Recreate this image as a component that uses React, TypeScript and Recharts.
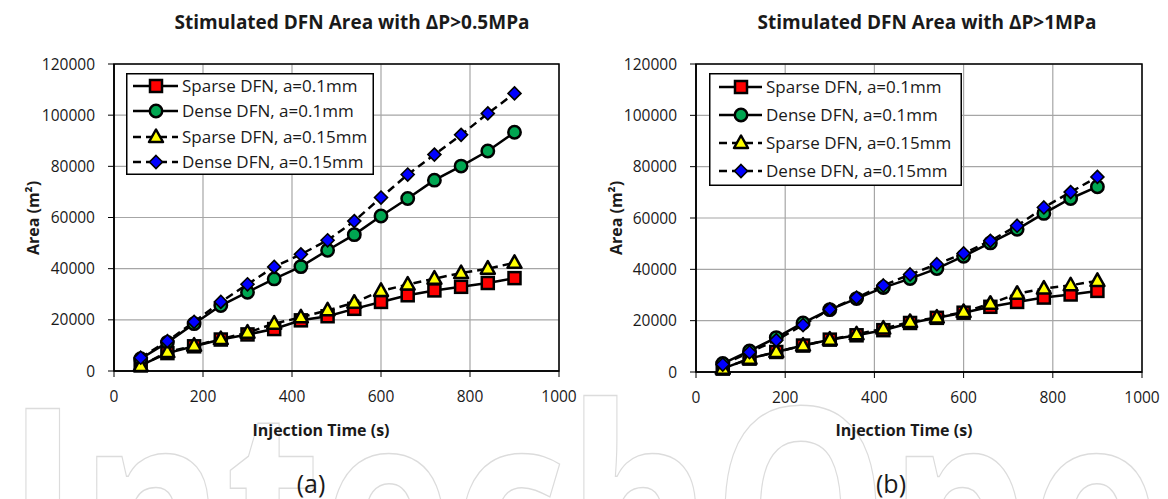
import React from 'react';
import { LineChart, Line, XAxis, YAxis, CartesianGrid, ReferenceArea, Legend } from 'recharts';

const injectionTimes = [60, 120, 180, 240, 300, 360, 420, 480, 540, 600, 660, 720, 780, 840, 900];
const xTicks = [0, 200, 400, 600, 800, 1000];
const yTicks = [0, 20000, 40000, 60000, 80000, 100000, 120000];

const seriesNames = ['Sparse DFN, a=0.1mm', 'Dense DFN, a=0.1mm', 'Sparse DFN, a=0.15mm', 'Dense DFN, a=0.15mm'];

// Panel (a): ΔP > 0.5 MPa
const sparse01A = [2200, 7000, 9650, 12300, 14300, 16400, 19800, 21400, 24300, 27000, 29600, 31500, 32900, 34400, 36300];
const dense01A = [4800, 11200, 18500, 25600, 30800, 36000, 40800, 47200, 53300, 60600, 67400, 74600, 80100, 86000, 93300];
const sparse015A = [2000, 7400, 9900, 12500, 15000, 18500, 21000, 23700, 26700, 31300, 33800, 36100, 38300, 40000, 42300];
const dense015A = [5200, 11700, 19200, 27000, 33900, 40700, 45600, 51100, 58600, 67800, 76800, 84600, 92300, 100700, 108500];

// Panel (b): ΔP > 1 MPa
const sparse01B = [1300, 5200, 7800, 10300, 12600, 14300, 16300, 19100, 21100, 23100, 25400, 27300, 29000, 30200, 31600];
const dense01B = [3300, 8200, 13400, 19100, 24300, 28600, 32900, 36400, 40300, 45100, 50300, 55600, 61800, 67600, 72200];
const sparse015B = [1300, 5200, 7800, 10300, 12600, 14700, 16900, 19500, 21200, 23400, 26600, 30500, 32500, 33800, 35500];
const dense015B = [2900, 7700, 12400, 18300, 24400, 29000, 33700, 38000, 42000, 46200, 51100, 57000, 64100, 70100, 76000];

const FONT = '"Open Sans", "DejaVu Sans", sans-serif';
const TEXT = '#1a1a1a';

const seriesStyles = [
  { key: 's01', shape: 'square', dashed: false },
  { key: 'd01', shape: 'circle', dashed: false },
  { key: 's015', shape: 'triangle', dashed: true },
  { key: 'd015', shape: 'diamond', dashed: true },
];

function buildRows(a: number[], b: number[], c: number[], d: number[]) {
  return injectionTimes.map((t, i) => ({ t, s01: a[i], d01: b[i], s015: c[i], d015: d[i] }));
}

const rowsA = buildRows(sparse01A, dense01A, sparse015A, dense015A);
const rowsB = buildRows(sparse01B, dense01B, sparse015B, dense015B);

function Marker({ cx, cy, shape }: { cx: number; cy: number; shape: string }) {
  if (cx == null || cy == null) return null;
  if (shape === 'square') {
    return <rect x={cx - 6} y={cy - 6} width={12} height={12} fill="#ff0000" stroke="#000" strokeWidth={2.5} />;
  }
  if (shape === 'circle') {
    return <circle cx={cx} cy={cy} r={6.2} fill="#00a651" stroke="#000" strokeWidth={2.5} />;
  }
  if (shape === 'triangle') {
    return (
      <polygon
        points={`${cx},${cy - 7.5} ${cx - 7},${cy + 5} ${cx + 7},${cy + 5}`}
        fill="#ffff00"
        stroke="#000"
        strokeWidth={2.5}
        strokeLinejoin="round"
      />
    );
  }
  return (
    <polygon
      points={`${cx},${cy - 6.5} ${cx + 6.5},${cy} ${cx},${cy + 6.5} ${cx - 6.5},${cy}`}
      fill="#0000ff"
      stroke="#000"
      strokeWidth={1.6}
    />
  );
}

function makeDot(shape: string) {
  return (props: any) => <Marker key={`${shape}-${props.index}`} cx={props.cx} cy={props.cy} shape={shape} />;
}

type LegendGeom = {
  width: number;
  height: number;
  rowYs: number[];
  lineX1: number;
  lineX2: number;
  markerX: number;
  textX: number;
};

function LegendBox({ g }: { g: LegendGeom }) {
  return (
    <svg width={g.width} height={g.height} style={{ display: 'block' }}>
      <rect x={0.75} y={0.75} width={g.width - 1.5} height={g.height - 1.5} fill="#fff" stroke="#000" strokeWidth={1.5} />
      {seriesStyles.map((s, i) => (
        <g key={s.key}>
          <line
            x1={g.lineX1}
            x2={g.lineX2}
            y1={g.rowYs[i]}
            y2={g.rowYs[i]}
            stroke="#000"
            strokeWidth={2.5}
            strokeDasharray={s.dashed ? '8 5' : undefined}
          />
          <Marker cx={g.markerX} cy={g.rowYs[i]} shape={s.shape} />
          <text x={g.textX} y={g.rowYs[i]} dy="0.36em" fontSize={17} fontFamily={FONT} fill={TEXT}>
            {seriesNames[i]}
          </text>
        </g>
      ))}
    </svg>
  );
}

type PanelProps = {
  rows: any[];
  left: number;
  width: number;
  margin: { top: number; right: number; left: number; bottom: number };
  legendPos: { left: number; top: number };
  legend: LegendGeom;
};

function Panel({ rows, left, width, margin, legendPos, legend }: PanelProps) {
  return (
    <div style={{ position: 'absolute', left, top: 0 }}>
      <LineChart width={width} height={420} data={rows} margin={margin}>
        <CartesianGrid stroke="#a6a6a6" strokeWidth={1.2} />
        <ReferenceArea
          x1={0}
          x2={1000}
          y1={0}
          y2={120000}
          fill="none"
          fillOpacity={0}
          stroke="#000"
          strokeWidth={1.5}
          ifOverflow="visible"
        />
        <XAxis
          dataKey="t"
          type="number"
          domain={[0, 1000]}
          ticks={xTicks}
          height={30}
          tickSize={6}
          tickMargin={14}
          axisLine={{ stroke: '#000', strokeWidth: 1.5 }}
          tickLine={{ stroke: '#000', strokeWidth: 1 }}
          tick={{ fill: TEXT, fontSize: 15.5, fontFamily: FONT }}
        />
        <YAxis
          type="number"
          domain={[0, 120000]}
          ticks={yTicks}
          width={60}
          tickSize={6}
          tickMargin={13}
          axisLine={{ stroke: '#000', strokeWidth: 1.5 }}
          tickLine={{ stroke: '#000', strokeWidth: 1 }}
          tick={{ fill: TEXT, fontSize: 15.5, fontFamily: FONT }}
        />
        <Legend
          layout="vertical"
          align="center"
          verticalAlign="middle"
          wrapperStyle={{ left: legendPos.left, top: legendPos.top, width: legend.width, height: legend.height }}
          content={() => <LegendBox g={legend} />}
        />
        {seriesStyles.map((s) => (
          <Line
            key={s.key}
            dataKey={s.key}
            type="linear"
            stroke="#000"
            strokeWidth={2.5}
            strokeDasharray={s.dashed ? '8 5' : undefined}
            dot={makeDot(s.shape)}
            activeDot={false}
            isAnimationActive={false}
          />
        ))}
      </LineChart>
    </div>
  );
}

const legendA: LegendGeom = {
  width: 248,
  height: 102,
  rowYs: [13, 38, 64, 89],
  lineX1: 7,
  lineX2: 52,
  markerX: 30,
  textX: 56,
};

const legendB: LegendGeom = {
  width: 253,
  height: 113,
  rowYs: [14, 42, 70, 98],
  lineX1: 10,
  lineX2: 53,
  markerX: 32,
  textX: 57,
};

export default function App() {
  return (
    <div style={{ position: 'absolute', left: 0, top: 0, width: 1168, height: 499, background: '#fff', overflow: 'hidden' }}>
      <svg width={1168} height={499} style={{ position: 'absolute', left: 0, top: 0 }}>
        <text
          x={6}
          y={612}
          fontSize={285}
          fontWeight="bold"
          fontFamily={FONT}
          fill="none"
          stroke="#dcdcdc"
          strokeWidth={1.5}
          textLength={1300}
          lengthAdjust="spacingAndGlyphs"
        >
          IntechOpen
        </text>
        <text x={352} y={22} dy="0.36em" textAnchor="middle" fontSize={19} fontWeight="bold" fontFamily={FONT} fill={TEXT}>
          Stimulated DFN Area with ΔP&gt;0.5MPa
        </text>
        <text x={927} y={22} dy="0.36em" textAnchor="middle" fontSize={19} fontWeight="bold" fontFamily={FONT} fill={TEXT}>
          Stimulated DFN Area with ΔP&gt;1MPa
        </text>
        <text x={321} y={430} dy="0.36em" textAnchor="middle" fontSize={16} fontWeight="bold" fontFamily={FONT} fill={TEXT}>
          Injection Time (s)
        </text>
        <text x={904} y={430} dy="0.36em" textAnchor="middle" fontSize={16} fontWeight="bold" fontFamily={FONT} fill={TEXT}>
          Injection Time (s)
        </text>
        <text
          transform="translate(33,218) rotate(-90)"
          dy="0.36em"
          textAnchor="middle"
          fontSize={16}
          fontWeight="bold"
          fontFamily={FONT}
          fill={TEXT}
        >
          Area (m²)
        </text>
        <text
          transform="translate(616,218) rotate(-90)"
          dy="0.36em"
          textAnchor="middle"
          fontSize={16}
          fontWeight="bold"
          fontFamily={FONT}
          fill={TEXT}
        >
          Area (m²)
        </text>
        <text x={311} y={484} dy="0.36em" textAnchor="middle" fontSize={25} fontFamily={FONT} fill={TEXT}>
          (a)
        </text>
        <text x={891} y={484} dy="0.36em" textAnchor="middle" fontSize={25} fontFamily={FONT} fill={TEXT}>
          (b)
        </text>
      </svg>
      <Panel
        rows={rowsA}
        left={0}
        width={580}
        margin={{ top: 64, right: 21, left: 54, bottom: 19 }}
        legendPos={{ left: 126, top: 73 }}
        legend={legendA}
      />
      <Panel
        rows={rowsB}
        left={580}
        width={588}
        margin={{ top: 64, right: 26, left: 56, bottom: 18 }}
        legendPos={{ left: 129, top: 73 }}
        legend={legendB}
      />
    </div>
  );
}
